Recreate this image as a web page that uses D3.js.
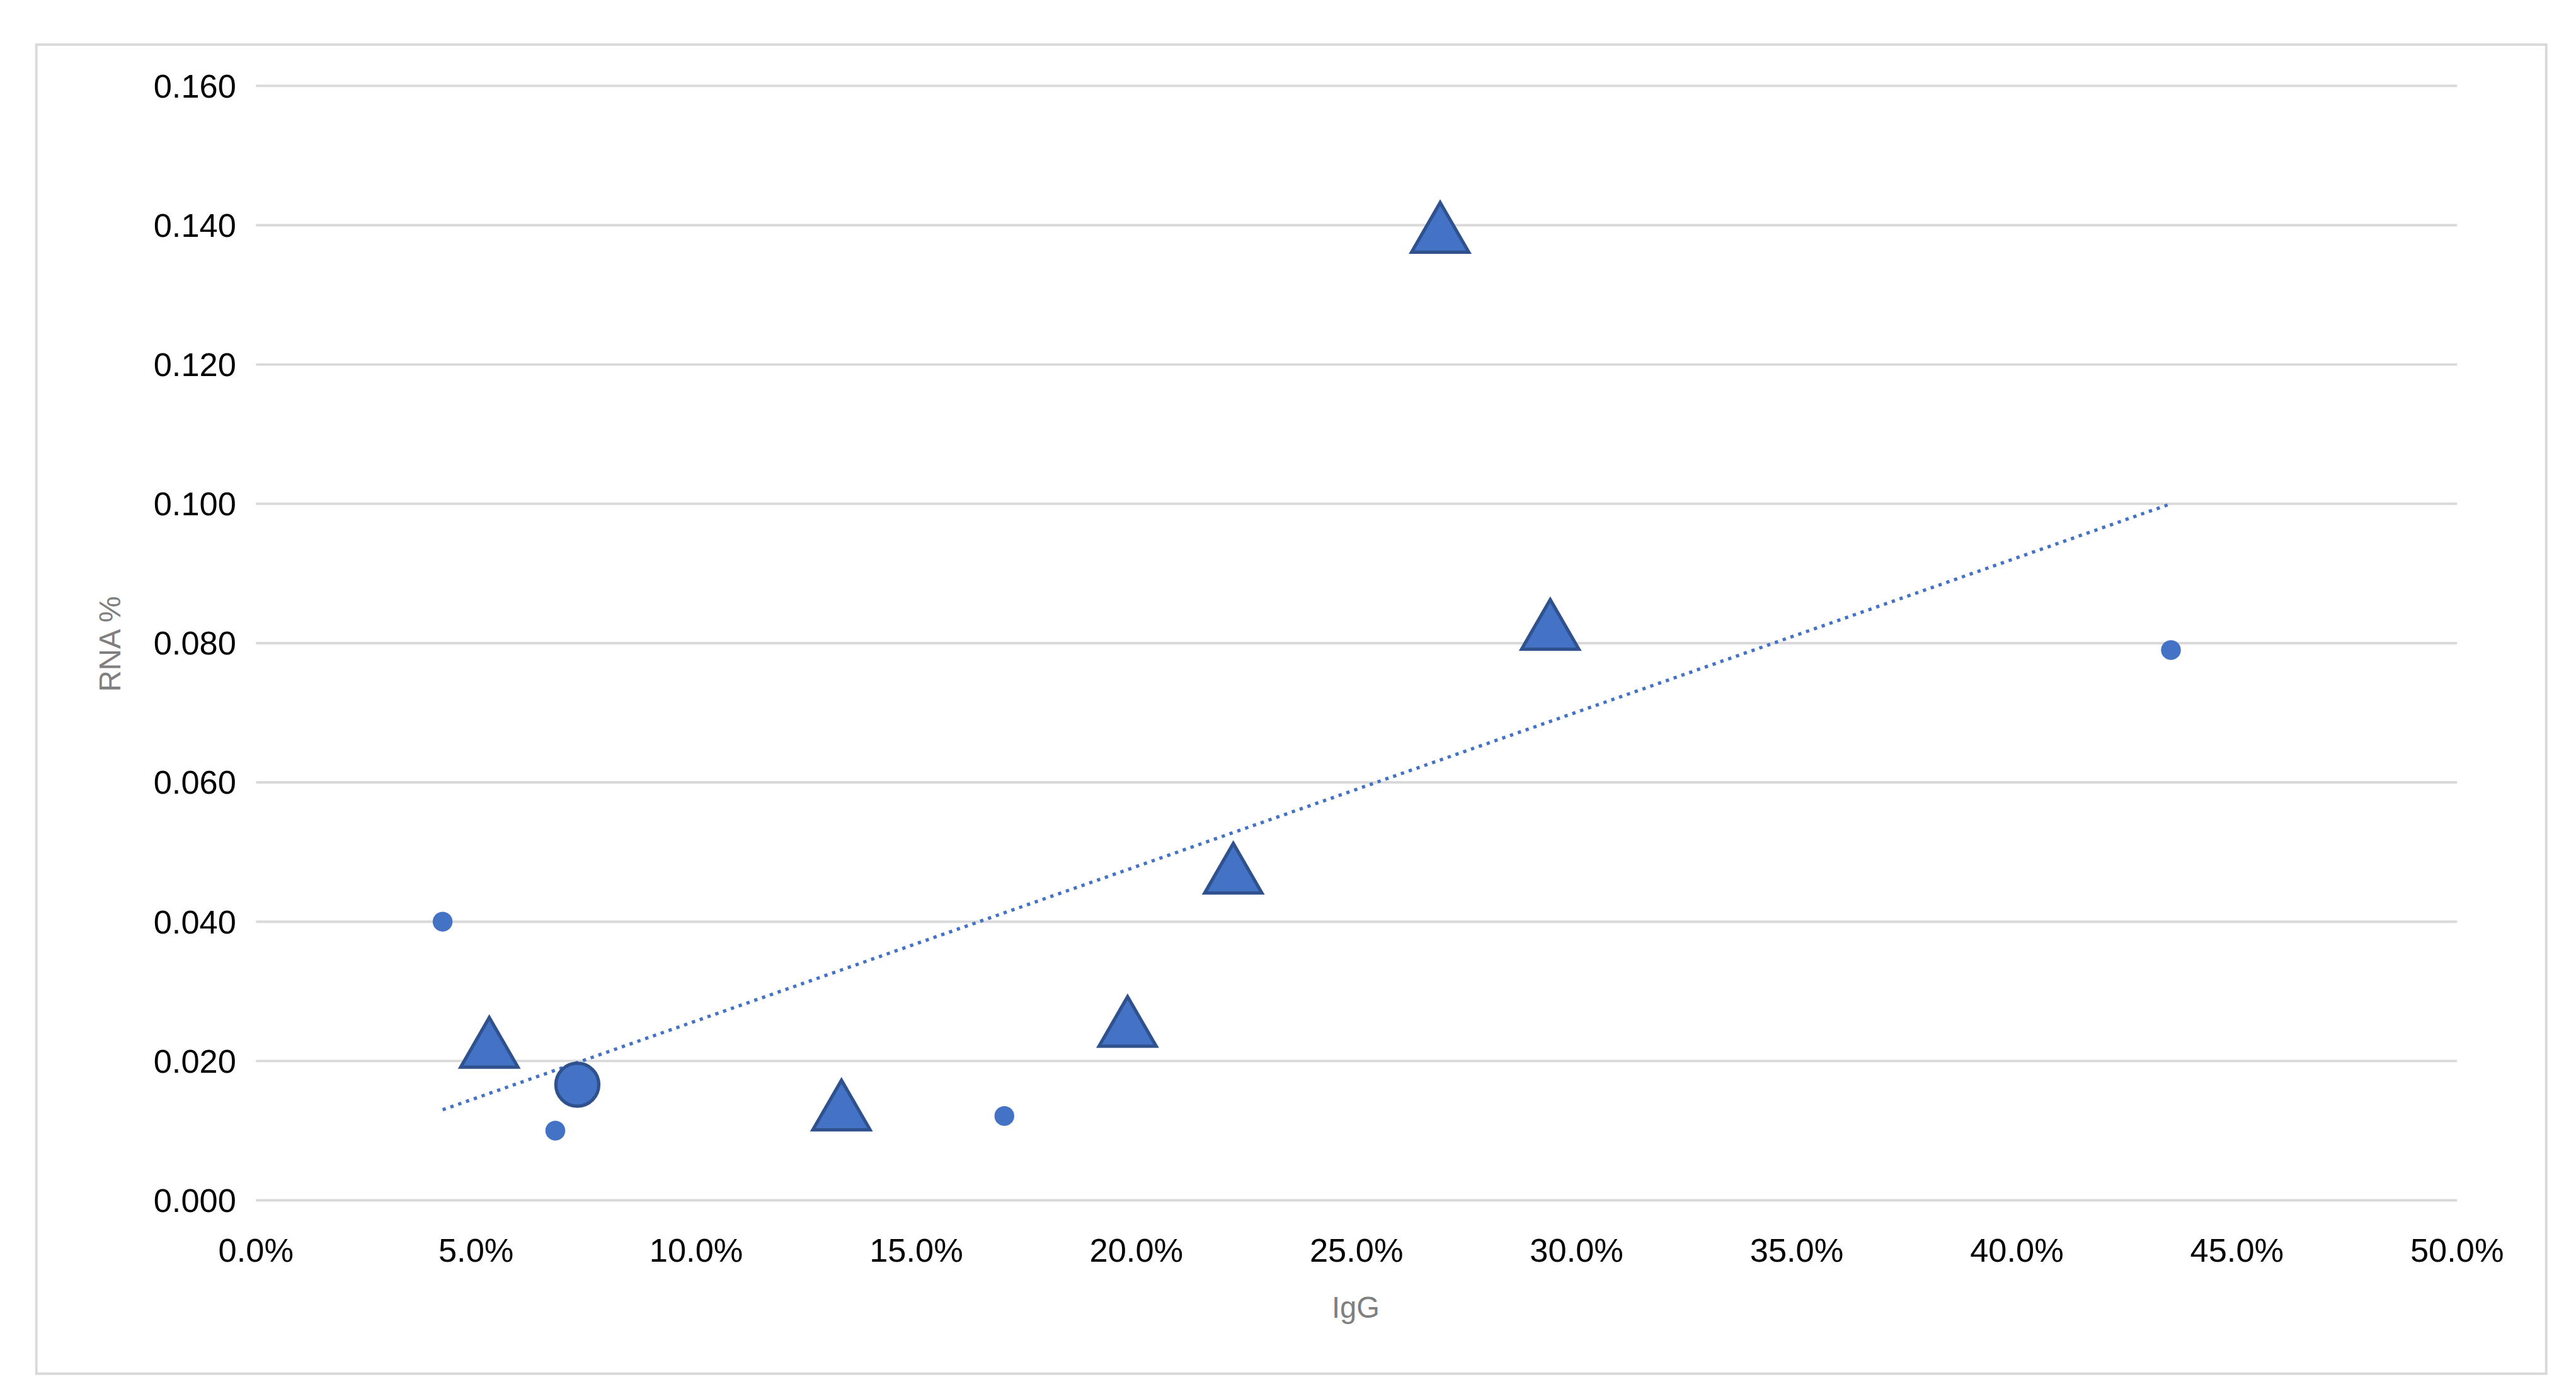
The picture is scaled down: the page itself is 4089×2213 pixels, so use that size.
<!DOCTYPE html>
<html><head><meta charset="utf-8">
<script src="https://cdn.jsdelivr.net/npm/d3@7"></script>
<style>body{margin:0;background:#fff}</style>
</head><body>
<div id="chart"></div>
<script>
// data
var dotX = [4.24, 6.8, 17.0, 43.5];
var dotY = [0.040, 0.010, 0.0121, 0.079];
var bigX = [7.3];
var bigY = [0.0166];
var triX = [5.3, 13.3, 19.8, 22.2, 26.9, 29.4];
var triY = [0.0215, 0.0125, 0.0245, 0.0465, 0.1385, 0.0815];
var trendX = [4.24, 43.5];
var trendY = [0.013, 0.100];
var xTicks = [0, 5, 10, 15, 20, 25, 30, 35, 40, 45, 50];
var yTicks = [0, 0.02, 0.04, 0.06, 0.08, 0.10, 0.12, 0.14, 0.16];

var W = 1560, H = 844.3;
var svg = d3.select("#chart").append("svg")
    .attr("width", 4089).attr("height", 2213)
    .attr("viewBox", "0 0 " + W + " " + H);

svg.append("rect").attr("x", 22).attr("y", 27).attr("width", 1520).attr("height", 805)
    .attr("fill", "#fff").attr("stroke", "#d9d9d9").attr("stroke-width", 1.5);

var x = d3.scaleLinear().domain([0, 50]).range([155, 1488]);
var y = d3.scaleLinear().domain([0, 0.16]).range([727, 52]);

var g = svg.append("g");
g.selectAll("line.grid").data(yTicks).enter().append("line")
    .attr("x1", x(0)).attr("x2", x(50))
    .attr("y1", function(d){ return y(d); }).attr("y2", function(d){ return y(d); })
    .attr("stroke", "#d9d9d9").attr("stroke-width", 1.5);

g.selectAll("text.yt").data(yTicks).enter().append("text")
    .attr("x", 143).attr("y", function(d){ return y(d) + 7; })
    .attr("text-anchor", "end").attr("font-family", "Liberation Sans, Arial, sans-serif")
    .attr("font-size", 20).attr("fill", "#000")
    .text(function(d){ return d.toFixed(3); });

g.selectAll("text.xt").data(xTicks).enter().append("text")
    .attr("x", function(d){ return x(d); }).attr("y", 764)
    .attr("text-anchor", "middle").attr("font-family", "Liberation Sans, Arial, sans-serif")
    .attr("font-size", 20).attr("fill", "#000")
    .text(function(d){ return d.toFixed(1) + "%"; });

svg.append("text").attr("x", 821).attr("y", 798).attr("text-anchor", "middle")
    .attr("font-family", "Liberation Sans, Arial, sans-serif").attr("font-size", 18)
    .attr("fill", "#7f7f7f").text("IgG");
svg.append("text").attr("transform", "translate(73,390) rotate(-90)").attr("text-anchor", "middle")
    .attr("font-family", "Liberation Sans, Arial, sans-serif").attr("font-size", 18)
    .attr("fill", "#7f7f7f").text("RNA %");

svg.append("line")
    .attr("x1", x(trendX[0])).attr("y1", y(trendY[0]))
    .attr("x2", x(trendX[1])).attr("y2", y(trendY[1]))
    .attr("stroke", "#4472c4").attr("stroke-width", 2).attr("stroke-dasharray", "2,3");

svg.selectAll("circle.dot").data(dotX).enter().append("circle")
    .attr("cx", function(d){ return x(d); }).attr("cy", function(d, i){ return y(dotY[i]); })
    .attr("r", 6).attr("fill", "#4472c4");

svg.selectAll("circle.big").data(bigX).enter().append("circle")
    .attr("cx", function(d){ return x(d); }).attr("cy", function(d, i){ return y(bigY[i]); })
    .attr("r", 13).attr("fill", "#4472c4").attr("stroke", "#2f528f").attr("stroke-width", 2);

var tri = d3.symbol().type(d3.symbolTriangle).size(520);
svg.selectAll("path.tri").data(triX).enter().append("path")
    .attr("d", tri)
    .attr("transform", function(d, i){ return "translate(" + x(d) + "," + y(triY[i]) + ")"; })
    .attr("fill", "#4472c4").attr("stroke", "#2f528f").attr("stroke-width", 2);
</script>
</body></html>
